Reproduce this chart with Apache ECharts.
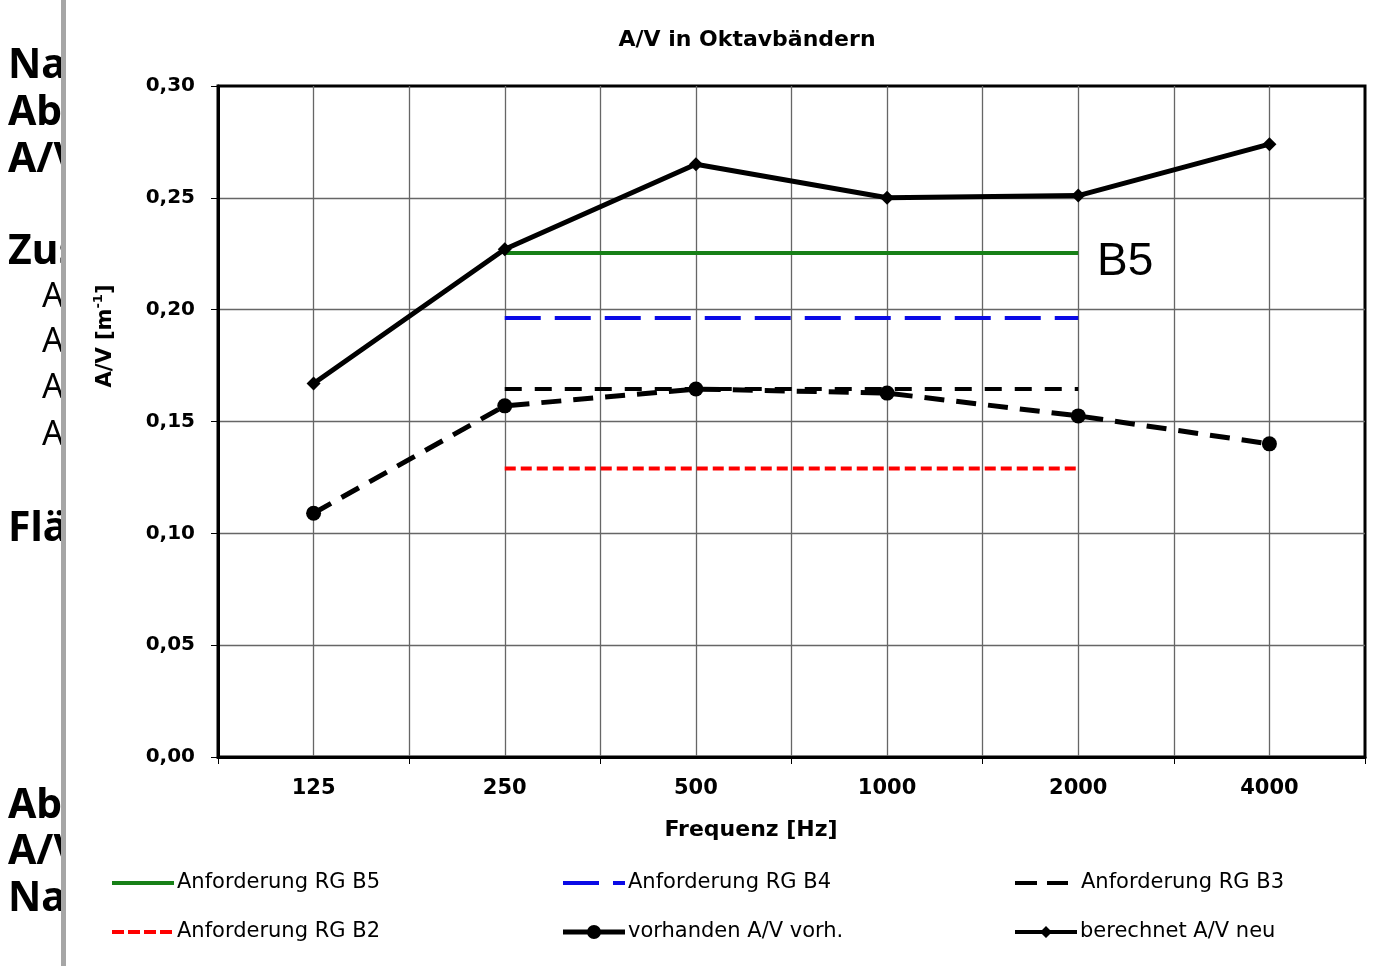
<!DOCTYPE html>
<html>
<head>
<meta charset="utf-8">
<script src="https://cdn.jsdelivr.net/npm/echarts@6/dist/echarts.min.js"></script>
<style>
html,body{margin:0;padding:0;background:#fff;}
#chart{width:1384px;height:966px;}
</style>
</head>
<body>
<div id="chart"></div>
<script>
const categories = ['125', '250', '500', '1000', '2000', '4000'];
const reqB5 = [null, 0.2253, 0.2253, 0.2253, 0.2253, null];
const reqB4 = [null, 0.1963, 0.1963, 0.1963, 0.1963, null];
const reqB3 = [null, 0.1645, 0.1645, 0.1645, 0.1645, null];
const reqB2 = [null, 0.129, 0.129, 0.129, 0.129, null];
const avVorh = [0.109, 0.157, 0.1645, 0.1627, 0.1525, 0.140];
const avNeu = [0.167, 0.227, 0.265, 0.250, 0.251, 0.274];
const halfBands = ['', '', '', '', '', '', '', '', '', '', '', ''];

const seriesNames = ['Anforderung RG B5', 'Anforderung RG B4', 'Anforderung RG B3',
  'Anforderung RG B2', 'vorhanden A/V vorh.', 'berechnet A/V neu'];
const sideTexts = [
  {t: 'Na', x: 8, y: 66, b: true}, {t: 'Ab', x: 8, y: 113, b: true}, {t: 'A/V', x: 8, y: 160, b: true},
  {t: 'Zus', x: 8, y: 252, b: true}, {t: 'A', x: 42, y: 297, b: false}, {t: 'A', x: 42, y: 342, b: false},
  {t: 'A', x: 42, y: 388, b: false}, {t: 'A', x: 42, y: 435, b: false}, {t: 'Flä', x: 8, y: 529, b: true},
  {t: 'Ab', x: 8, y: 806, b: true}, {t: 'A/V', x: 8, y: 852, b: true}, {t: 'Na', x: 8, y: 899, b: true}
];

const FONT = '"Liberation Sans", Arial, sans-serif';
const WIDE = '"DejaVu Sans", sans-serif';
const chart = echarts.init(document.getElementById('chart'), null, {renderer: 'canvas'});

const graphics = [];
sideTexts.forEach(s => graphics.push({
  type: 'text', x: s.x, y: s.y, z: 1,
  style: {text: s.t, fontFamily: '"Noto Sans", sans-serif', fontWeight: s.b ? 'bold' : 'normal',
    fontSize: s.b ? 41 : 34, fill: '#000', verticalAlign: 'middle'}
}));
graphics.push({type: 'rect', x: 63, y: 0, z: 2, shape: {width: 30, height: 966}, style: {fill: '#fff'}});
graphics.push({type: 'rect', x: 61, y: 0, z: 3, shape: {width: 5, height: 966}, style: {fill: '#a6a6a6'}});
graphics.push({type: 'text', x: 747, y: 40, z: 3,
  style: {text: 'A/V in Oktavbändern', fontFamily: WIDE, fontWeight: 'bold', fontSize: 22, fill: '#000',
    align: 'center', verticalAlign: 'middle'}});
graphics.push({type: 'text', x: 751, y: 830, z: 3,
  style: {text: 'Frequenz [Hz]', fontFamily: WIDE, fontWeight: 'bold', fontSize: 22, fill: '#000',
    align: 'center', verticalAlign: 'middle'}});
graphics.push({type: 'text', x: 104, y: 336, z: 3, rotation: Math.PI / 2,
  style: {text: '{a|A/V [m}{s|-1}{a|]}', align: 'center', verticalAlign: 'middle',
    rich: {a: {fontFamily: WIDE, fontWeight: 'bold', fontSize: 21, fill: '#000', color: '#000', verticalAlign: 'bottom', lineHeight: 24},
           s: {fontFamily: WIDE, fontWeight: 'bold', fontSize: 13, fill: '#000', color: '#000', verticalAlign: 'top', lineHeight: 24}}}});
graphics.push({type: 'text', x: 1097, y: 262, z: 3,
  style: {text: 'B5', fontFamily: FONT, fontSize: 46, fill: '#000', verticalAlign: 'middle'}});

const legendIcons = [
  {icon: 'rect', w: 62, h: 4, pad: -2},
  {icon: 'path://M0,0H36V4H0Z M50,0H62V4H50Z', w: 62, h: 4, pad: -2},
  {icon: 'path://M0,0H22V4H0Z M32,0H53V4H32Z', w: 53, h: 4, pad: 8},
  {icon: 'path://M0,0H12V4H0Z M16,0H28V4H16Z M32,0H44V4H32Z M48,0H60V4H48Z', w: 60, h: 4, pad: 0},
  {icon: 'path://M0,4.5H62V9.5H0Z M24,7A7,7 0 1,1 38,7A7,7 0 1,1 24,7Z', w: 62, h: 14, pad: -2},
  {icon: 'path://M0,4H62V8H0Z M31,0L37,6L31,12L25,6Z', w: 62, h: 12, pad: -2}
];
const legendPos = [[112, 871], [563, 871], [1015, 871], [112, 920], [563, 920], [1015, 920]];
const legends = seriesNames.map((n, i) => ({
  data: [{name: n, icon: legendIcons[i].icon}],
  left: legendPos[i][0], top: legendPos[i][1], padding: 0,
  itemWidth: legendIcons[i].w, itemHeight: legendIcons[i].h, itemGap: 4,
  textStyle: {fontFamily: WIDE, fontSize: 21, color: '#000', lineHeight: 24, padding: [0, 0, 0, legendIcons[i].pad]}
}));

const lineBase = {type: 'line', xAxisIndex: 0, yAxisIndex: 0, silent: true, animation: false, connectNulls: false};

chart.setOption({
  animation: false,
  backgroundColor: '#fff',
  graphic: graphics,
  legend: legends,
  grid: {left: 218, right: 19, top: 86, bottom: 209, show: true, borderColor: '#000', borderWidth: 3, backgroundColor: 'transparent'},
  xAxis: [
    {type: 'category', data: categories, boundaryGap: true,
     axisLine: {lineStyle: {color: '#000', width: 3}},
     axisTick: {show: true, length: 7, lineStyle: {color: '#000', width: 1}},
     axisLabel: {fontFamily: WIDE, fontWeight: 'bold', fontSize: 21, color: '#000', margin: 21},
     splitLine: {show: false}},
    {type: 'category', data: halfBands, boundaryGap: true, position: 'bottom',
     axisLine: {show: false}, axisTick: {show: false}, axisLabel: {show: false},
     splitLine: {show: true, showMinLine: false, showMaxLine: false, lineStyle: {color: '#666', width: 1.3}}}
  ],
  yAxis: {type: 'value', min: 0, max: 0.3, interval: 0.05,
    axisLine: {show: true, lineStyle: {color: '#000', width: 3}},
    axisTick: {show: true, length: 7, lineStyle: {color: '#000', width: 1}},
    axisLabel: {fontFamily: WIDE, fontWeight: 'bold', fontSize: 20, color: '#000', margin: 23,
      formatter: v => v.toFixed(2).replace('.', ',')},
    splitLine: {show: true, showMinLine: false, showMaxLine: false, lineStyle: {color: '#666', width: 1.3}}},
  series: [
    Object.assign({}, lineBase, {name: seriesNames[0], data: reqB5, symbol: 'none', z: 3,
      itemStyle: {color: '#178017'}, lineStyle: {color: '#178017', width: 4}}),
    Object.assign({}, lineBase, {name: seriesNames[1], data: reqB4, symbol: 'none', z: 3,
      itemStyle: {color: '#0a0ae6'}, lineStyle: {color: '#0a0ae6', width: 4, type: [36, 14]}}),
    Object.assign({}, lineBase, {name: seriesNames[2], data: reqB3, symbol: 'none', z: 3,
      itemStyle: {color: '#000'}, lineStyle: {color: '#000', width: 4, type: [17, 13]}}),
    Object.assign({}, lineBase, {name: seriesNames[3], data: reqB2, symbol: 'none', z: 3,
      itemStyle: {color: '#ff0000'}, lineStyle: {color: '#ff0000', width: 4, type: [11, 5]}}),
    Object.assign({}, lineBase, {name: seriesNames[4], data: avVorh, symbol: 'circle', symbolSize: 15, z: 4,
      itemStyle: {color: '#000'}, lineStyle: {color: '#000', width: 5, type: [20, 12]}}),
    Object.assign({}, lineBase, {name: seriesNames[5], data: avNeu, symbol: 'diamond', symbolSize: 14, z: 5,
      itemStyle: {color: '#000'}, lineStyle: {color: '#000', width: 5}})
  ]
});
</script>
</body>
</html>
